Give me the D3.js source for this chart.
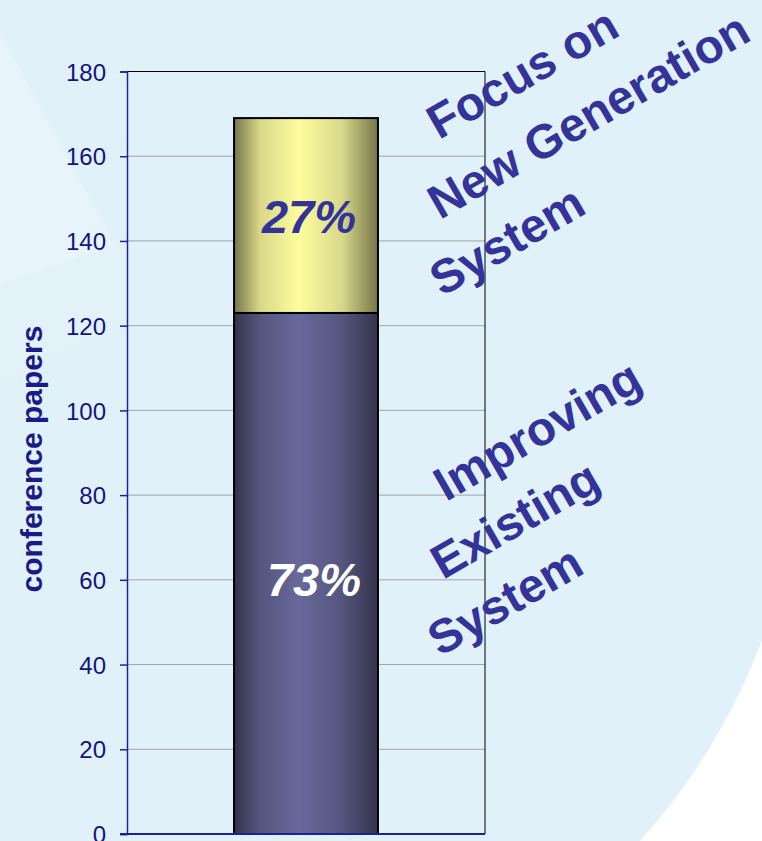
<!DOCTYPE html>
<html>
<head>
<meta charset="utf-8">
<script src="https://cdn.jsdelivr.net/npm/d3@7"></script>
<style>
  html, body { margin: 0; padding: 0; background: #ffffff; }
  svg { display: block; }
</style>
</head>
<body>
<svg id="chart" width="762" height="841"></svg>
<script>
// Conference papers split into two research directions
const categories = ["conference papers"];
const seriesNames = ["Improving Existing System", "Focus on New Generation System"];
const improvingValues = [123];
const newGenValues = [46];
const percentLabels = ["73%", "27%"];
const yTicks = [0, 20, 40, 60, 80, 100, 120, 140, 160, 180];
const annotationTop = ["Focus on", "New Generation", "System"];
const annotationBottom = ["Improving", "Existing", "System"];

const W = 762, H = 841;
const margin = { left: 127, right: 277, top: 71.5, bottom: 7 };
const svg = d3.select("#chart");
const defs = svg.append("defs");

// Backdrop: pale blue field, faint lighter wedge at left, white arc at lower right
svg.append("rect").attr("width", W).attr("height", H).attr("fill", "#e1f1fa");
svg.append("path")
  .attr("d", "M0,33 L115,245 L0,285 Z")
  .attr("fill", "#e7f4fb");
svg.append("path")
  .attr("d", "M0,285 L130,240 L130,318 L0,385 Z")
  .attr("fill", "#e3f1f8");
svg.append("path")
  .attr("d", "M762,640 Q720,752 640,841 L762,841 Z")
  .attr("fill", "#ffffff");

const x = d3.scaleBand()
  .domain(categories)
  .range([margin.left, W - margin.right])
  .padding(0.4265);

const y = d3.scaleLinear()
  .domain([0, 180])
  .range([H - margin.bottom, margin.top]);

// Horizontal gradients giving the bars a cylindrical look
function cylinder(id, edge, mid, light) {
  const g = defs.append("linearGradient").attr("id", id)
    .attr("x1", "0%").attr("x2", "100%").attr("y1", "0%").attr("y2", "0%");
  [[0, edge], [0.18, mid], [0.45, light], [0.75, mid], [1, edge]]
    .forEach(([o, c]) => g.append("stop").attr("offset", o).attr("stop-color", c));
}
cylinder("gradBottom", "#33334c", "#55557f", "#68689b");
cylinder("gradTop", "#75754a", "#d8d88a", "#fdfd9d");

// Gridlines
svg.append("g")
  .selectAll("line")
  .data(yTicks.filter(t => t > 0 && t < 180))
  .join("line")
  .attr("x1", margin.left).attr("x2", W - margin.right)
  .attr("y1", d => y(d)).attr("y2", d => y(d))
  .attr("stroke", "#a3a3a3").attr("stroke-width", 1);

// Frame: top and right edges
svg.append("path")
  .attr("d", `M${margin.left},${y(180)} H${W - margin.right} V${y(0)}`)
  .attr("fill", "none").attr("stroke", "#000000").attr("stroke-width", 1);

// Stacked bar
const stackData = categories.map((c, i) => ({ cat: c, a: improvingValues[i], b: newGenValues[i] }));
const stacked = d3.stack().keys(["a", "b"])(stackData);
const fills = ["url(#gradBottom)", "url(#gradTop)"];

svg.append("g")
  .selectAll("g")
  .data(stacked)
  .join("g")
  .attr("fill", (d, i) => fills[i])
  .selectAll("rect")
  .data(d => d)
  .join("rect")
  .attr("x", d => x(d.data.cat))
  .attr("width", x.bandwidth())
  .attr("y", d => y(d[1]))
  .attr("height", d => y(d[0]) - y(d[1]))
  .attr("stroke", "#000000")
  .attr("stroke-width", 2);

// Percent labels inside segments
const labelColors = ["#ffffff", "#333399"];
const labelOffsets = [8, 3];
svg.append("g")
  .selectAll("text")
  .data(stacked)
  .join("text")
  .attr("x", (d, i) => x(d[0].data.cat) + x.bandwidth() / 2 + labelOffsets[i])
  .attr("y", (d, i) => i === 0 ? y(improvingValues[0]) + 283 : y(improvingValues[0] + newGenValues[0]) + 115)
  .attr("text-anchor", "middle")
  .attr("font-family", "Liberation Sans, Arial, sans-serif")
  .attr("font-weight", "bold")
  .attr("font-style", "italic")
  .attr("font-size", 47)
  .attr("fill", (d, i) => labelColors[i])
  .text((d, i) => percentLabels[i]);

// Y axis
const yAxis = d3.axisLeft(y).tickValues(yTicks).tickSize(7).tickPadding(14);
const gy = svg.append("g")
  .attr("transform", `translate(${margin.left},0)`)
  .call(yAxis);
gy.select(".domain").attr("stroke", "#20209a").attr("stroke-width", 1.5);
gy.selectAll(".tick line").attr("stroke", "#20209a").attr("stroke-width", 1.5);
gy.selectAll(".tick text")
  .attr("fill", "#141480")
  .attr("font-family", "Liberation Sans, Arial, sans-serif")
  .attr("font-size", 24)
  .attr("dy", "0.36em");

// Baseline
svg.append("line")
  .attr("x1", margin.left - 7).attr("x2", W - margin.right)
  .attr("y1", y(0)).attr("y2", y(0))
  .attr("stroke", "#20209a").attr("stroke-width", 2);

// Y axis title
svg.append("text")
  .attr("transform", `translate(42,459) rotate(-90)`)
  .attr("text-anchor", "middle")
  .attr("font-family", "Liberation Sans, Arial, sans-serif")
  .attr("font-weight", "bold")
  .attr("font-size", 30)
  .attr("fill", "#1a1a88")
  .text("conference papers");

// Slanted annotations to the right of the plot
function annotate(lines, anchors) {
  svg.append("g")
    .selectAll("text")
    .data(lines)
    .join("text")
    .attr("transform", (d, i) => `translate(${anchors[i][0]},${anchors[i][1]}) rotate(-30)`)
    .attr("font-family", "Liberation Sans, Arial, sans-serif")
    .attr("font-weight", "bold")
    .attr("font-size", 47.5)
    .attr("fill", "#333399")
    .text(d => d);
}
annotate(annotationTop, [[439, 140], [440, 220], [442, 297]]);
annotate(annotationBottom, [[446, 502], [443, 580], [440, 657]]);
</script>
</body>
</html>
